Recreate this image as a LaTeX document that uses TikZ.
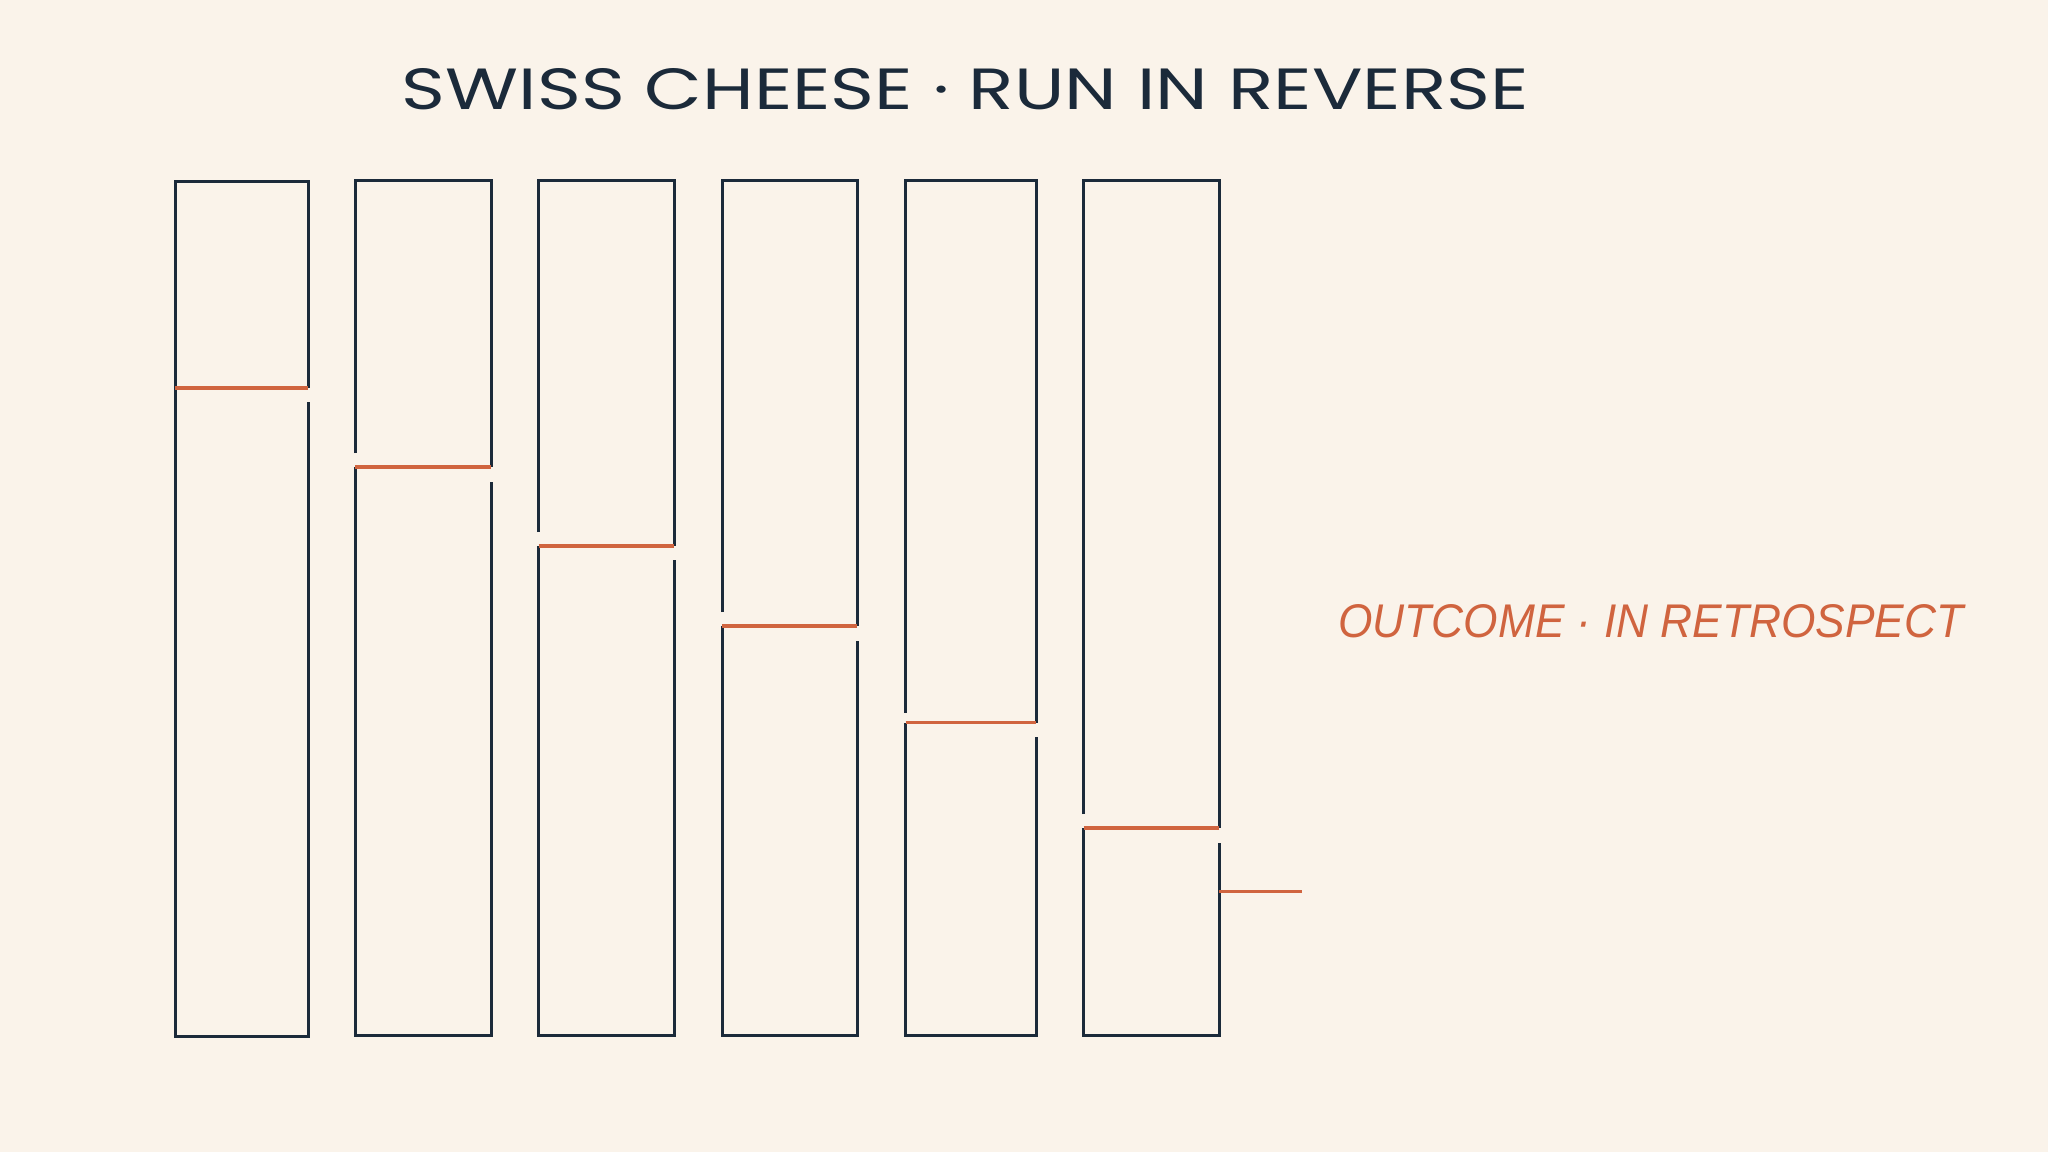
\documentclass[tikz,border=0pt]{standalone}
\usepackage{fontspec}
\setmainfont{Poppins}
\newfontfamily\outfont{Liberation Sans}
\definecolor{bgcream}{HTML}{FAF3EA}
\definecolor{inknavy}{HTML}{1B2A3A}
\definecolor{holered}{HTML}{D0643F}
\begin{document}
\begin{tikzpicture}[x=1pt,y=-1pt,
  wall/.style={draw=inknavy,line width=3pt,line join=miter},
  hole/.style={draw=holered,line width=3.6pt},
  titletext/.style={anchor=base west,inner sep=0pt,text=inknavy},
  outtext/.style={anchor=base west,inner sep=0pt,text=holered}]
\fill[bgcream] (0,0) rectangle (2048,1152);
\useasboundingbox (0,0) rectangle (2048,1152);
% title
\node[titletext] (title) at (401.7,109.3) {\resizebox{1126pt}{41pt}{SWISS CHEESE · RUN IN REVERSE}};
% layer 1 (left side continuous)
\coordinate (l1tl) at (175,181.5);
\coordinate (l1tr) at (308,181.5);
\coordinate (l1bl) at (175,1036.5);
\coordinate (l1br) at (308,1036.5);
\coordinate (l1hl) at (175,388);
\coordinate (l1hr) at (308,388);
\coordinate (l1rr) at (308,402);
\draw[wall] (l1hr) -- (l1tr) -- (l1tl) -- (l1bl) -- (l1br) -- (l1rr);
\draw[hole] (l1hl) -- (l1hr);
% layers 2..6
\foreach \n/\L/\R/\H/\G/\Q in {2/355/491/467/453/482, 3/538.5/674/546/532/560, 4/722/857/626/612/641, 5/905.5/1036/722.5/712.5/737, 6/1083.5/1219/828/814/843}{
  \coordinate (l\n g) at (\L,\G);
  \coordinate (l\n tl) at (\L,180);
  \coordinate (l\n tr) at (\R,180);
  \coordinate (l\n hr) at (\R,\H);
  \coordinate (l\n hl) at (\L,\H);
  \coordinate (l\n rr) at (\R,\Q);
  \coordinate (l\n br) at (\R,1035);
  \coordinate (l\n bl) at (\L,1035);
  \draw[wall] (l\n g) -- (l\n tl) -- (l\n tr) -- (l\n hr);
  \draw[wall] (l\n rr) -- (l\n br) -- (l\n bl) -- (l\n hl);
  \draw[hole] (l\n hl) -- (l\n hr);
}
% outcome trajectory
\coordinate (outA) at (1219,891.5);
\coordinate (outB) at (1302,891.5);
\draw[hole] (outA) -- (outB);
\node[outtext] (outcome) at (1338,637.7) {\resizebox{625pt}{33pt}{\outfont\itshape OUTCOME · IN RETROSPECT}};
\end{tikzpicture}
\end{document}
